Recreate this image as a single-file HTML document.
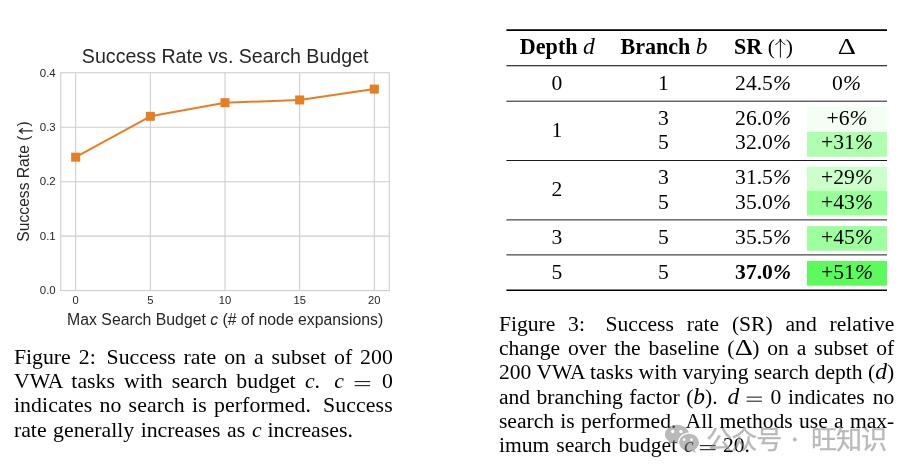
<!DOCTYPE html>
<html><head><meta charset="utf-8"><title>fig</title>
<style>
html,body{margin:0;padding:0;background:#fff;}
body{width:916px;height:476px;position:relative;overflow:hidden;font-family:"Liberation Serif",serif;color:#000;}
.sans{font-family:"Liberation Sans",sans-serif;}
.chart{position:absolute;left:0;top:0;}
.ln{position:absolute;white-space:nowrap;font-size:21.6px;line-height:24px;height:24px;text-align:justify;text-align-last:justify;}
.ln.l{text-align:left;text-align-last:left;}
.lc{font-size:21.8px;}
i{font-style:italic;}
.m{font-style:italic;font-size:1.09em;line-height:0;}
.hb{font-size:22.1px;}
.ng{display:inline-block;width:0;height:1px;}
.eqb{position:absolute;height:3.1px;border-top:0.95px solid #000;border-bottom:0.95px solid #000;}
.rule{position:absolute;left:506.5px;width:380.5px;background:#000;}
.c{position:absolute;font-size:21.6px;line-height:24px;height:24px;white-space:nowrap;text-align:center;}
.g{position:absolute;left:807px;width:80px;}
b{font-weight:bold;}
.D{font-size:24.1px;line-height:0;display:inline-block;transform:scaleX(1.17);margin:0 1.1px;}
.wm{position:absolute;left:0;top:0;}
.ua{display:inline-block;vertical-align:baseline;}
#w{position:absolute;left:0;top:0;width:916px;height:476px;will-change:transform;}
</style></head><body><div id="w">
<svg class="chart" width="458" height="340" viewBox="0 0 458 340">
<g stroke="#cccccc" stroke-width="1.05" fill="none"><line x1="75.68" y1="72.75" x2="75.68" y2="290.6"/><line x1="150.34" y1="72.75" x2="150.34" y2="290.6"/><line x1="225.00" y1="72.75" x2="225.00" y2="290.6"/><line x1="299.66" y1="72.75" x2="299.66" y2="290.6"/><line x1="374.32" y1="72.75" x2="374.32" y2="290.6"/><line x1="60.75" y1="236.14" x2="389.25" y2="236.14"/><line x1="60.75" y1="181.68" x2="389.25" y2="181.68"/><line x1="60.75" y1="127.21" x2="389.25" y2="127.21"/><rect x="60.75" y="72.75" width="328.5" height="217.85000000000002"/></g>
<polyline points="75.68,157.17 150.34,116.32 225.00,102.70 299.66,99.98 374.32,89.09" fill="none" stroke="#e67e22" stroke-width="2" stroke-linejoin="round"/>
<g fill="#e67e22"><rect x="71.18" y="152.67" width="9" height="9"/><rect x="145.84" y="111.82" width="9" height="9"/><rect x="220.50" y="98.20" width="9" height="9"/><rect x="295.16" y="95.48" width="9" height="9"/><rect x="369.82" y="84.59" width="9" height="9"/></g>
<g class="sans" font-size="11.2" text-anchor="middle" fill="#262626"><text x="75.68" y="303.5">0</text><text x="150.34" y="303.5">5</text><text x="225.00" y="303.5">10</text><text x="299.66" y="303.5">15</text><text x="374.32" y="303.5">20</text></g>
<g class="sans" font-size="11.45" text-anchor="end" fill="#262626"><text x="55.7" y="294.35">0.0</text><text x="55.7" y="239.89">0.1</text><text x="55.7" y="185.43">0.2</text><text x="55.7" y="130.96">0.3</text><text x="55.7" y="76.50">0.4</text></g>
<text class="sans" x="225.2" y="63" font-size="19.62" text-anchor="middle" fill="#262626">Success Rate vs. Search Budget</text>
<text class="sans" x="225.2" y="325" font-size="15.8" text-anchor="middle" fill="#262626">Max Search Budget <tspan font-style="italic">c</tspan> (# of node expansions)</text>
<g transform="translate(28.5,181.5) rotate(-90)" fill="#262626">
<text class="sans" x="-60.15" y="0" font-size="15.65">Success Rate (</text>
<text class="sans" x="54.9" y="0" font-size="15.65">)</text>
<path d="M50.6,4.1 L50.6,-8.8 M48.0,-5.6 L50.6,-9.2 L53.2,-5.6" fill="none" stroke="#262626" stroke-width="1.15" stroke-linejoin="miter"/>
</g>
</svg>
<div class="ln lc" style="left:13.90px;width:378.90px;top:344.95px;">Figure 2: <span class="ng" style="margin-left:-5px"></span>&nbsp;Success rate on a subset of 200</div>
<div class="ln lc" style="left:13.90px;width:281.80px;top:369.20px;">VWA tasks with search budget</div>
<div class="ln lc l" style="left:304.90px;top:369.20px;"><i>c</i>.</div>
<div class="ln lc l" style="left:334.30px;top:369.20px;"><i>c</i></div>
<div class="ln lc l" style="left:382.00px;top:369.20px;">0</div>
<div class="ln lc" style="left:13.90px;width:378.90px;top:393.40px;"><span style="letter-spacing:0.1px">indicates no search is performed. <span class="ng" style="margin-left:-9.6px"></span>&nbsp;&nbsp;Success</span></div>
<div class="ln lc" style="left:13.90px;width:231.30px;top:417.60px;">rate generally increases as</div>
<div class="ln lc l" style="left:252.00px;top:417.60px;"><i>c</i></div>
<div class="ln lc l" style="left:267.50px;top:417.60px;">increases.</div>
<svg class="wm" width="916" height="476" viewBox="0 0 916 476"><rect x="807" y="107" width="80.0" height="25.00" fill="#f2fff2"/><rect x="807" y="132" width="80.0" height="24.80" fill="#b0ffb0"/><rect x="807" y="166.8" width="80.0" height="24.00" fill="#ccffcc"/><rect x="807" y="190.8" width="80.0" height="24.70" fill="#99ff99"/><rect x="807" y="226.1" width="80.0" height="24.70" fill="#9dff9d"/><rect x="807" y="261.0" width="80.0" height="24.70" fill="#5cfa5c"/><line x1="506.4" y1="30.1" x2="887.0" y2="30.1" stroke="#000" stroke-width="1.6"/><line x1="506.4" y1="65.8" x2="887.0" y2="65.8" stroke="#000" stroke-width="1.05"/><line x1="506.4" y1="101.2" x2="887.0" y2="101.2" stroke="#000" stroke-width="0.9"/><line x1="506.4" y1="160.5" x2="887.0" y2="160.5" stroke="#000" stroke-width="0.9"/><line x1="506.4" y1="219.9" x2="887.0" y2="219.9" stroke="#000" stroke-width="0.9"/><line x1="506.4" y1="254.9" x2="887.0" y2="254.9" stroke="#000" stroke-width="0.9"/><line x1="506.4" y1="290.3" x2="887.0" y2="290.3" stroke="#000" stroke-width="1.6"/></svg>
<div class="c" style="left:497.29999999999995px;width:120px;top:34.60px;"><b class="hb">Depth</b> <span class="m">d</span></div>
<div class="c" style="left:604px;width:120px;top:34.60px;"><b class="hb">Branch</b> <span class="m">b</span></div>
<div class="c" style="left:703.5px;width:120px;top:34.60px;"><b class="hb">SR</b> (<svg class="ua" width="10.8" height="20" viewBox="0 0 10.8 20" style="margin-bottom:-4.6px"><path d="M5.4,19.6 L5.4,1.2 M0.4,6.6 C3.0,5.4 4.7,3.4 5.4,0.9 C6.1,3.4 7.8,5.4 10.4,6.6" fill="none" stroke="#000" stroke-width="0.95"/></svg>)</div>
<div class="c" style="left:787px;width:120px;top:34.60px;"><span class="D">Δ</span></div>
<div class="c" style="left:497px;width:120px;top:70.90px;">0</div>
<div class="c" style="left:603.5px;width:120px;top:70.90px;">1</div>
<div class="c" style="left:703px;width:120px;top:70.90px;">24.5<i>%</i></div>
<div class="c" style="left:786.5px;width:120px;top:70.90px;">0<i>%</i></div>
<div class="c" style="left:497px;width:120px;top:118.40px;">1</div>
<div class="c" style="left:603.5px;width:120px;top:105.65px;">3</div>
<div class="c" style="left:603.5px;width:120px;top:130.15px;">5</div>
<div class="c" style="left:703px;width:120px;top:105.65px;">26.0<i>%</i></div>
<div class="c" style="left:703px;width:120px;top:130.15px;">32.0<i>%</i></div>
<div class="c" style="left:787px;width:120px;top:105.65px;">+6<i>%</i></div>
<div class="c" style="left:787px;width:120px;top:130.15px;">+31<i>%</i></div>
<div class="c" style="left:497px;width:120px;top:177.15px;">2</div>
<div class="c" style="left:603.5px;width:120px;top:165.15px;">3</div>
<div class="c" style="left:603.5px;width:120px;top:189.90px;">5</div>
<div class="c" style="left:703px;width:120px;top:165.15px;">31.5<i>%</i></div>
<div class="c" style="left:703px;width:120px;top:189.90px;">35.0<i>%</i></div>
<div class="c" style="left:787px;width:120px;top:165.15px;">+29<i>%</i></div>
<div class="c" style="left:787px;width:120px;top:189.90px;">+43<i>%</i></div>
<div class="c" style="left:497px;width:120px;top:225.15px;">3</div>
<div class="c" style="left:603.5px;width:120px;top:225.15px;">5</div>
<div class="c" style="left:703px;width:120px;top:225.15px;">35.5<i>%</i></div>
<div class="c" style="left:787px;width:120px;top:225.15px;">+45<i>%</i></div>
<div class="c" style="left:497px;width:120px;top:260.15px;">5</div>
<div class="c" style="left:603.5px;width:120px;top:260.15px;">5</div>
<div class="c" style="left:703px;width:120px;top:260.15px;"><b>37.0<i>%</i></b></div>
<div class="c" style="left:787px;width:120px;top:260.15px;">+51<i>%</i></div>
<div class="ln" style="left:498.90px;width:395.40px;top:311.95px;">Figure 3: <span class="ng" style="margin-left:-5px"></span>&nbsp;Success rate (SR) and relative</div>
<div class="ln" style="left:498.90px;width:395.40px;top:336.21px;">change over the baseline (<span class="D">Δ</span>) on a subset of</div>
<div class="ln" style="left:498.90px;width:395.40px;top:360.47px;">200 VWA tasks with varying search depth (<span class="m">d</span>)</div>
<div class="ln" style="left:498.90px;width:218.80px;top:384.73px;">and branching factor (<span class="m">b</span>).</div>
<div class="ln l" style="left:727.50px;top:384.73px;"><span class="m">d</span></div>
<div class="ln l" style="left:770.60px;top:384.73px;">0</div>
<div class="ln" style="left:788.00px;width:106.30px;top:384.73px;">indicates no</div>
<div class="ln" style="left:498.90px;width:395.40px;top:408.99px;">search is performed. <span class="ng" style="margin-left:-9.6px"></span>&nbsp;&nbsp;All methods use a max-</div>
<div class="ln" style="left:498.90px;width:178.30px;top:433.25px;">imum search budget</div>
<div class="ln l" style="left:684.00px;top:433.25px;"><i>c</i></div>
<div class="ln l" style="left:723.00px;top:433.25px;">20.</div>
<svg class="wm" width="916" height="476" viewBox="0 0 916 476">
<g stroke="#000" stroke-width="0.95"><line x1="354.60" y1="381.60" x2="370.20" y2="381.60"/><line x1="354.60" y1="385.65" x2="370.20" y2="385.65"/><line x1="746.60" y1="397.13" x2="761.90" y2="397.13"/><line x1="746.60" y1="401.18" x2="761.90" y2="401.18"/><line x1="699.90" y1="445.65" x2="715.60" y2="445.65"/><line x1="699.90" y1="449.70" x2="715.60" y2="449.70"/></g>
<g fill="#808080" stroke="#808080" stroke-width="0.36" opacity="0.55">
<text x="706.3 731.3 756.3" y="448.8" font-size="26" font-family="'Liberation Sans','Noto Sans CJK SC',sans-serif">公众号</text>
<text x="810.9 835.9 860.9" y="448.8" font-size="26" font-family="'Liberation Sans','Noto Sans CJK SC',sans-serif">旺知识</text>
<circle cx="794.8" cy="439.5" r="1.9" stroke="none"/>
</g>
<defs><mask id="mk" maskUnits="userSpaceOnUse" x="650" y="415" width="60" height="50"><rect x="650" y="415" width="60" height="50" fill="#fff"/><path d="M688.4,433.8 a10.4,8.8 0 0 1 6.3,15.8 l1,3.4 l-3.7,-1.9 a10.4,8.8 0 1 1 -3.6,-17.3z" fill="#000" stroke="#000" stroke-width="2.4"/><circle cx="672.7" cy="431.5" r="1.7" fill="#000"/><circle cx="680.9" cy="431.5" r="1.7" fill="#000"/></mask>
<mask id="mk2" maskUnits="userSpaceOnUse" x="650" y="415" width="60" height="50"><rect x="650" y="415" width="60" height="50" fill="#fff"/><circle cx="684.1" cy="439.7" r="1.4" fill="#000"/><circle cx="691.5" cy="439.7" r="1.4" fill="#000"/></mask></defs>
<g fill="#808080" fill-opacity="0.55">
<path mask="url(#mk)" d="M676.6,424.8 a12.2,9.4 0 1 1 -4.5,18.1 l-4.2,2.3 l1.2,-4.0 a12.2,9.4 0 0 1 7.5,-16.4z"/>
<path mask="url(#mk2)" d="M688.4,433.8 a10.4,8.8 0 0 1 6.3,15.8 l1,3.4 l-3.7,-1.9 a10.4,8.8 0 1 1 -3.6,-17.3z"/>
</g>

</svg>
</div></body></html>
